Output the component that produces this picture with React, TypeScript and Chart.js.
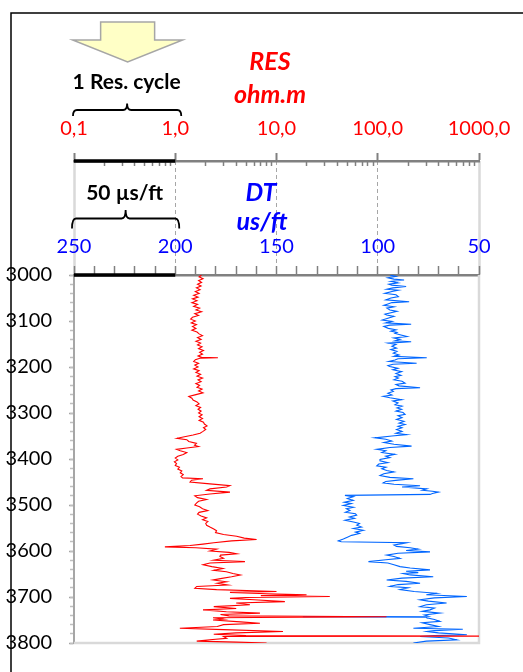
import { useEffect, useRef } from 'react';
import { Chart, registerables } from 'chart.js';

Chart.register(...registerables);

// ---------- DATA ----------
const resDepth = [
  3000, 3004, 3008, 3012, 3016, 3020, 3024, 3028, 3032, 3036,
  3040, 3044, 3048, 3052, 3056, 3060, 3064, 3068, 3072, 3076,
  3080, 3084, 3088, 3092, 3096, 3100, 3104, 3108, 3112, 3116,
  3120, 3124, 3128, 3132, 3136, 3140, 3144, 3148, 3152, 3156,
  3160, 3164, 3168, 3172, 3176, 3179, 3180, 3181, 3184, 3188,
  3192, 3196, 3200, 3204, 3208, 3212, 3216, 3220, 3224, 3228,
  3232, 3236, 3240, 3244, 3248, 3252, 3256, 3260, 3264, 3268,
  3272, 3276, 3280, 3284, 3288, 3292, 3296, 3300, 3304, 3308,
  3312, 3316, 3320, 3324, 3328, 3332, 3336, 3340, 3344, 3348,
  3352, 3355, 3358, 3362, 3366, 3370, 3373, 3376, 3379, 3382,
  3386, 3390, 3394, 3398, 3402, 3406, 3410, 3414, 3418, 3422,
  3426, 3430, 3434, 3438, 3441, 3443, 3446, 3450, 3454, 3458,
  3461, 3465, 3468, 3472, 3476, 3480, 3484, 3488, 3492, 3496,
  3500, 3504, 3508, 3512, 3516, 3520, 3524, 3528, 3532, 3536,
  3540, 3544, 3548, 3552, 3556, 3560, 3564, 3568, 3572, 3575,
  3578, 3582, 3585, 3588, 3591, 3593, 3596, 3600, 3603, 3606,
  3609, 3612, 3616, 3620, 3623, 3626, 3630, 3634, 3638, 3642,
  3645, 3649, 3652, 3656, 3660, 3663, 3667, 3670, 3674, 3677,
  3681, 3684, 3688, 3690, 3693, 3695, 3697, 3699, 3701, 3703,
  3706, 3710, 3713, 3717, 3721, 3725, 3728, 3732, 3735, 3738,
  3741, 3743, 3745, 3748, 3750, 3754, 3757, 3760, 3764, 3768,
  3771, 3775, 3778, 3781, 3784, 3785, 3786, 3790, 3793, 3796,
  3798, 3800,
];
const resValues = [
  1.82, 1.72, 1.88, 1.70, 1.82, 1.66, 1.80, 1.62, 1.76, 1.58,
  1.72, 1.52, 1.68, 1.48, 1.64, 1.46, 1.66, 1.52, 1.74, 1.60,
  1.82, 1.56, 1.70, 1.48, 1.42, 1.58, 1.44, 1.62, 1.48, 1.60,
  1.46, 1.64, 1.72, 1.86, 1.66, 1.80, 1.60, 1.78, 1.66, 1.84,
  1.70, 1.90, 1.74, 1.86, 1.68, 1.82, 2.64, 1.75, 1.58, 1.52,
  1.70, 1.56, 1.68, 1.52, 1.72, 1.60, 1.78, 1.64, 1.86, 1.68,
  1.80, 1.60, 1.74, 1.64, 1.84, 1.70, 1.88, 1.60, 1.36, 1.46,
  1.50, 1.64, 1.72, 1.60, 1.78, 1.68, 1.80, 1.70, 1.84, 1.72,
  1.86, 1.72, 1.90, 1.94, 2.06, 1.90, 2.00, 1.88, 1.76, 1.50,
  1.20, 1.04, 1.30, 1.36, 1.62, 1.55, 1.70, 1.30, 1.03, 1.12,
  1.30, 1.20, 1.06, 1.00, 1.06, 0.98, 1.03, 1.00, 1.10, 1.06,
  1.16, 1.12, 1.20, 1.14, 1.18, 1.88, 1.45, 1.40, 2.20, 3.47,
  3.22, 2.20, 2.04, 3.47, 2.20, 1.56, 1.66, 2.04, 1.70, 1.62,
  1.56, 1.74, 1.86, 2.10, 1.72, 1.66, 1.80, 2.04, 1.86, 2.10,
  2.00, 2.04, 2.20, 2.40, 2.56, 2.50, 3.00, 4.04, 4.80, 6.36,
  3.60, 2.40, 1.88, 1.40, 0.79, 1.60, 2.56, 2.20, 3.40, 4.04,
  2.80, 2.76, 3.00, 2.40, 4.88, 2.20, 1.88, 2.30, 2.96, 2.40,
  3.20, 3.71, 4.40, 3.60, 2.80, 2.36, 3.20, 2.60, 3.31, 1.63,
  1.56, 2.56, 10.0, 3.47, 8.0, 19.8, 7.0, 33.6, 5.0, 3.47,
  6.0, 12.1, 4.0, 5.46, 2.40, 4.00, 1.88, 3.20, 6.86, 2.80,
  3.40, 122, 2.36, 3.00, 2.36, 4.40, 6.86, 3.00, 2.60, 1.11,
  3.00, 11.6, 4.00, 2.40, 5.00, 1000, 3.00, 3.22, 2.20, 1.63,
  4.00, 7.98,
];

const dtDepth = [
  3000, 3003, 3006, 3009, 3011, 3014, 3017, 3020, 3022, 3025,
  3028, 3031, 3033, 3036, 3040, 3043, 3047, 3050, 3054, 3058,
  3060, 3063, 3066, 3069, 3072, 3076, 3079, 3082, 3085, 3087,
  3090, 3094, 3098, 3101, 3104, 3107, 3109, 3112, 3116, 3119,
  3122, 3125, 3127, 3130, 3134, 3137, 3140, 3143, 3145, 3148,
  3151, 3155, 3159, 3162, 3166, 3170, 3174, 3177, 3180, 3182,
  3185, 3188, 3192, 3194, 3197, 3199, 3203, 3206, 3210, 3214,
  3218, 3221, 3224, 3228, 3231, 3235, 3238, 3241, 3245, 3247,
  3250, 3253, 3257, 3261, 3264, 3267, 3271, 3274, 3278, 3282,
  3285, 3289, 3292, 3296, 3299, 3303, 3306, 3310, 3314, 3318,
  3322, 3325, 3329, 3332, 3336, 3340, 3344, 3347, 3350, 3354,
  3357, 3361, 3364, 3368, 3372, 3375, 3379, 3382, 3386, 3390,
  3394, 3397, 3401, 3404, 3408, 3411, 3415, 3418, 3421, 3425,
  3428, 3432, 3436, 3440, 3443, 3446, 3449, 3452, 3455, 3458,
  3461, 3465, 3468, 3470, 3472, 3475, 3477, 3479, 3482, 3486,
  3490, 3494, 3497, 3501, 3505, 3508, 3512, 3516, 3519, 3522,
  3526, 3529, 3533, 3537, 3540, 3544, 3548, 3551, 3555, 3559,
  3562, 3566, 3570, 3574, 3578, 3580, 3582, 3584, 3587, 3590,
  3593, 3596, 3599, 3602, 3605, 3609, 3612, 3616, 3619, 3623,
  3626, 3630, 3634, 3637, 3641, 3644, 3647, 3649, 3652, 3656,
  3659, 3663, 3666, 3670, 3673, 3677, 3680, 3684, 3688, 3692,
  3695, 3699, 3702, 3706, 3709, 3713, 3717, 3721, 3724, 3728,
  3731, 3735, 3739, 3742, 3743, 3744, 3745, 3749, 3753, 3756,
  3760, 3764, 3768, 3770, 3773, 3775, 3778, 3782, 3784, 3786,
  3789, 3793, 3796, 3800,
];
const dtValues = [
  94.0, 91.0, 95.0, 92.0, 87.0, 93.5, 90.0, 94.5, 93.1, 86.0,
  92.5, 95.5, 89.8, 93.0, 96.5, 91.0, 89.8, 93.5, 96.0, 84.5,
  93.0, 95.0, 97.0, 92.0, 95.5, 94.0, 90.5, 93.5, 96.5, 95.6,
  92.0, 95.0, 97.8, 93.0, 96.0, 83.5, 94.0, 97.0, 94.8, 91.0,
  93.5, 90.5, 91.5, 89.0, 85.5, 92.0, 89.0, 91.5, 83.5, 94.8,
  91.0, 93.0, 90.7, 93.5, 90.5, 92.3, 89.5, 92.0, 75.8, 90.0,
  91.5, 94.5, 80.8, 92.5, 95.0, 94.0, 90.0, 92.5, 88.2, 91.0,
  88.5, 91.5, 89.8, 92.0, 88.0, 86.5, 91.0, 89.5, 79.1, 91.0,
  93.5, 92.3, 95.0, 93.0, 97.3, 94.0, 88.2, 92.5, 90.0, 91.5,
  88.0, 90.5, 88.2, 91.0, 87.5, 86.5, 90.0, 88.0, 90.7, 87.0,
  89.5, 86.5, 90.0, 88.0, 90.7, 88.0, 91.0, 85.7, 93.0, 101.4,
  96.0, 93.1, 97.0, 92.0, 83.3, 94.0, 100.5, 96.0, 98.0, 91.5,
  96.0, 94.0, 98.9, 98.9, 95.0, 99.5, 100.5, 96.0, 98.0, 95.6,
  92.0, 97.0, 98.9, 94.0, 82.4, 90.0, 96.0, 97.3, 92.0, 79.1,
  88.0, 75.8, 78.0, 73.0, 70.0, 73.0, 74.2, 116.2, 112.0, 115.0,
  112.1, 116.5, 113.0, 117.0, 112.0, 115.5, 113.7, 116.0, 111.0, 110.4,
  114.0, 111.5, 116.2, 112.0, 109.0, 110.4, 108.0, 112.0, 107.1, 111.0,
  109.0, 112.9, 115.0, 117.0, 119.5, 118.0, 85.7, 88.0, 92.0, 90.7,
  84.0, 80.0, 86.0, 74.2, 90.0, 95.6, 92.0, 89.0, 96.0, 104.6,
  95.0, 92.0, 89.0, 84.0, 74.2, 86.0, 80.0, 87.4, 84.0, 72.6,
  88.0, 95.6, 86.0, 79.1, 90.0, 94.0, 85.0, 89.0, 82.0, 70.9,
  76.0, 56.0, 72.0, 79.1, 75.0, 66.0, 76.0, 79.1, 72.0, 74.2,
  78.0, 69.3, 77.0, 75.0, 137.0, 76.0, 75.8, 72.0, 69.3, 78.0,
  74.2, 70.0, 82.4, 58.0, 72.0, 75.8, 70.0, 56.0, 72.0, 79.1,
  65.0, 61.0, 76.0, 82.4,
];

const depthTicks = [3000, 3100, 3200, 3300, 3400, 3500, 3600, 3700, 3800];
const resMajorTicks = [0.1, 1, 10, 100, 1000];
const resTickLabels = ['0,1', '1,0', '10,0', '100,0', '1000,0'];
const resMinorTicks = [
  0.2, 0.3, 0.4, 0.5, 0.6, 0.7, 0.8, 0.9,
  2, 3, 4, 5, 6, 7, 8, 9,
  20, 30, 40, 50, 60, 70, 80, 90,
  200, 300, 400, 500, 600, 700, 800, 900,
];
const dtMajorTicks = [250, 200, 150, 100, 50];
const dtMinorTicks = [
  250, 240, 230, 220, 210, 200, 190, 180, 170, 160, 150,
  140, 130, 120, 110, 100, 90, 80, 70, 60, 50,
];

const FONT = 'Lato, "Open Sans", sans-serif';

function brace(ctx: CanvasRenderingContext2D, xL: number, xR: number, y: number, h: number, nubY: number) {
  const xc = (xL + xR) / 2;
  const r = 4;
  ctx.beginPath();
  ctx.moveTo(xL, y + h);
  ctx.quadraticCurveTo(xL, y, xL + r, y);
  ctx.lineTo(xc - r, y);
  ctx.quadraticCurveTo(xc, y, xc, nubY);
  ctx.quadraticCurveTo(xc, y, xc + r, y);
  ctx.lineTo(xR - r, y);
  ctx.quadraticCurveTo(xR, y, xR, y + h);
  ctx.stroke();
}

const decorPlugin = {
  id: 'decor',
  beforeDatasetsDraw(chart: any) {
    const { ctx, chartArea } = chart;
    ctx.save();
    ctx.strokeStyle = '#d9d9d9';
    ctx.lineWidth = 2.5;
    ctx.beginPath();
    ctx.moveTo(chartArea.right, chartArea.top);
    ctx.lineTo(chartArea.right, chartArea.bottom);
    ctx.lineTo(chartArea.left, chartArea.bottom);
    ctx.stroke();
    ctx.restore();
  },
  afterDraw(chart: any) {
    const { ctx } = chart;
    const xr = chart.scales.xRes;
    const xd = chart.scales.xDT;
    const resY = xr.bottom;
    const dtY = xd.bottom;
    const r0 = xr.getPixelForValue(0.1);
    const r1 = xr.getPixelForValue(1);
    const d0 = xd.getPixelForValue(250);
    const d1 = xd.getPixelForValue(200);
    ctx.save();

    // thick black cycle segments
    ctx.strokeStyle = '#000';
    ctx.lineWidth = 3.5;
    ctx.beginPath();
    ctx.moveTo(r0, resY);
    ctx.lineTo(r1, resY);
    ctx.moveTo(d0, dtY);
    ctx.lineTo(d1, dtY);
    ctx.stroke();

    // arrow
    const ac = (r0 + r1) / 2 + 3;
    ctx.beginPath();
    ctx.moveTo(ac - 27, 22);
    ctx.lineTo(ac + 27, 22);
    ctx.lineTo(ac + 27, 40);
    ctx.lineTo(ac + 55, 40);
    ctx.lineTo(ac, 62);
    ctx.lineTo(ac - 55, 40);
    ctx.lineTo(ac - 27, 40);
    ctx.closePath();
    ctx.fillStyle = '#ffffc6';
    ctx.fill();
    ctx.strokeStyle = '#a6a6a6';
    ctx.lineWidth = 1.5;
    ctx.stroke();

    // braces
    ctx.strokeStyle = '#000';
    ctx.lineWidth = 1.8;
    brace(ctx, r0 - 1, r1 + 6, 110, 6, 103.5);
    brace(ctx, d0 - 2, d1 + 4, 218.5, 10, 210);

    // brace labels
    ctx.fillStyle = '#000';
    ctx.textAlign = 'center';
    ctx.textBaseline = 'alphabetic';
    ctx.font = `bold 21px ${FONT}`;
    ctx.fillText('1 Res. cycle', (r0 + r1) / 2 + 2, 89);
    ctx.fillText('50 µs/ft', (d0 + d1) / 2, 200);

    // curve titles
    ctx.font = `italic bold 25px ${FONT}`;
    ctx.fillStyle = '#ff0000';
    ctx.fillText('RES', 270, 70);
    ctx.fillText('ohm.m', 270, 103);
    ctx.fillStyle = '#0000ff';
    ctx.fillText('DT', 261, 201);
    ctx.fillText('us/ft', 262, 230);

    // outer frame
    ctx.strokeStyle = '#000';
    ctx.lineWidth = 1.5;
    ctx.beginPath();
    ctx.moveTo(11, 700);
    ctx.lineTo(11, 13);
    ctx.lineTo(560, 13);
    ctx.stroke();
    ctx.restore();
  },
};

export default function App() {
  const ref = useRef<HTMLCanvasElement | null>(null);

  useEffect(() => {
    document.body.style.margin = '0';
    const canvas = ref.current;
    if (!canvas) return;
    Chart.defaults.font.family = FONT;

    const resData = resDepth.map((d, i) => ({ x: resValues[i], y: d }));
    const dtData = dtDepth.map((d, i) => ({ x: dtValues[i], y: d }));

    const chart = new Chart(canvas, {
      type: 'scatter',
      data: {
        datasets: [
          {
            label: 'RES',
            data: resData,
            xAxisID: 'xRes',
            yAxisID: 'y',
            showLine: true,
            borderColor: '#ff0000',
            borderWidth: 1.1,
            pointRadius: 0,
            tension: 0,
          },
          {
            label: 'DT',
            data: dtData,
            xAxisID: 'xDT',
            yAxisID: 'y',
            showLine: true,
            borderColor: '#0066ff',
            borderWidth: 1.1,
            pointRadius: 0,
            tension: 0,
          },
        ],
      },
      options: {
        responsive: false,
        animation: false,
        events: [],
        layout: { padding: { left: 0, right: 44, top: 0, bottom: 27 } },
        plugins: { legend: { display: false }, tooltip: { enabled: false } },
        scales: {
          y: {
            axis: 'y',
            type: 'linear',
            position: 'left',
            weight: 1,
            min: 3000,
            max: 3800,
            reverse: true,
            afterBuildTicks: (s: any) => { s.ticks = depthTicks.map((v) => ({ value: v })); },
            afterFit: (s: any) => { s.width = 74; },
            ticks: {
              autoSkip: false,
              callback: (v: any) => String(v),
              color: '#000',
              font: { size: 20 },
              padding: 17,
            },
            grid: { drawOnChartArea: false, tickLength: 5, tickColor: '#a6a6a6', tickWidth: 1.5 },
            border: { color: '#a6a6a6', width: 2 },
          },
          yMinor: {
            axis: 'y',
            type: 'linear',
            position: 'left',
            weight: 0,
            min: 3000,
            max: 3800,
            reverse: true,
            ticks: { display: false, stepSize: 20 },
            afterFit: (s: any) => { s.width = 0; },
            grid: { drawOnChartArea: false, tickLength: 4, tickColor: '#bfbfbf', tickWidth: 1.5 },
            border: { display: false },
          },
          xRes: {
            axis: 'x',
            type: 'logarithmic',
            position: 'top',
            weight: 3,
            min: 0.1,
            max: 1000,
            afterBuildTicks: (s: any) => { s.ticks = resMajorTicks.map((v) => ({ value: v })); },
            afterFit: (s: any) => { s.height = 161; },
            ticks: {
              autoSkip: false,
              maxRotation: 0,
              callback: (_v: any, i: number) => resTickLabels[i],
              color: '#ff0000',
              font: { size: 20 },
              padding: 12,
            },
            grid: { drawOnChartArea: false, tickLength: 8, tickColor: '#808080', tickWidth: 2 },
            border: { color: '#808080', width: 2.5 },
          },
          xResMinor: {
            axis: 'x',
            type: 'logarithmic',
            position: 'top',
            weight: 2,
            min: 0.1,
            max: 1000,
            afterBuildTicks: (s: any) => { s.ticks = resMinorTicks.map((v) => ({ value: v })); },
            afterFit: (s: any) => { s.height = 0; },
            ticks: { display: false, autoSkip: false },
            grid: { drawOnChartArea: false, tickLength: -5, tickColor: '#808080', tickWidth: 1.5 },
            border: { display: false },
          },
          xDT: {
            axis: 'x',
            type: 'linear',
            position: 'top',
            weight: 1,
            min: 50,
            max: 250,
            reverse: true,
            afterBuildTicks: (s: any) => { s.ticks = dtMajorTicks.map((v) => ({ value: v })); },
            afterFit: (s: any) => { s.height = 114; },
            ticks: {
              autoSkip: false,
              maxRotation: 0,
              callback: (v: any) => String(v),
              color: '#0000ff',
              font: { size: 20 },
              padding: -98,
            },
            grid: {
              drawOnChartArea: false,
              tickLength: 114,
              tickColor: (c: any) => (c.tick && (c.tick.value === 250 || c.tick.value === 50) ? '#d9d9d9' : '#a6a6a6'),
              tickWidth: (c: any) => (c.tick && (c.tick.value === 250 || c.tick.value === 50) ? 2.5 : 1),
              tickBorderDash: (c: any) => (c.tick && (c.tick.value === 250 || c.tick.value === 50) ? [] : [4, 3]),
            },
            border: { color: '#808080', width: 2.5 },
          },
          xDTMinor: {
            axis: 'x',
            type: 'linear',
            position: 'top',
            weight: 0,
            min: 50,
            max: 250,
            reverse: true,
            afterBuildTicks: (s: any) => { s.ticks = dtMinorTicks.map((v) => ({ value: v })); },
            afterFit: (s: any) => { s.height = 0; },
            ticks: { display: false, autoSkip: false },
            grid: { drawOnChartArea: false, tickLength: 9, tickColor: '#808080', tickWidth: 1.5 },
            border: { display: false },
          },
        },
      },
      plugins: [decorPlugin],
    } as any);

    return () => chart.destroy();
  }, []);

  return (
    <canvas
      ref={ref}
      width={523}
      height={672}
      style={{ display: 'block', width: 523, height: 672 }}
    />
  );
}
